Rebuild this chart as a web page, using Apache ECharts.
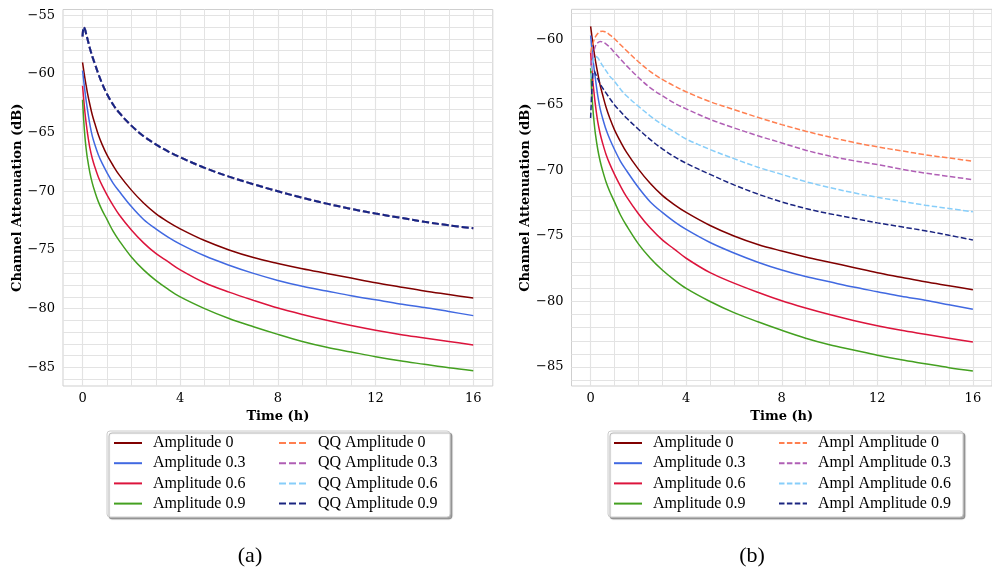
<!DOCTYPE html>
<html>
<head>
<meta charset="utf-8">
<script src="https://cdn.jsdelivr.net/npm/echarts@6/dist/echarts.min.js"></script>
<style>html,body{margin:0;padding:0;background:#fff;}#c{width:992px;height:571px;}</style>
</head>
<body>
<div id="c"></div>
<script>
// ---- data ----
const timeH = [0, 0.05, 0.1, 0.15, 0.2, 0.3, 0.4, 0.5, 0.65, 0.8, 1, 1.25, 1.5, 2, 2.5, 3, 3.5, 4, 5, 6, 7, 8, 9, 10, 11, 12, 13, 14, 15, 16];

const amp0  = [-59.0, -59.7, -60.4, -61.0, -61.6, -62.6, -63.5, -64.2, -65.2, -66.0, -66.9, -67.8, -68.6, -69.9, -71.0, -71.9, -72.6, -73.2, -74.2, -75.0, -75.65, -76.15, -76.6, -77.0, -77.4, -77.8, -78.15, -78.5, -78.8, -79.1];
const amp03 = [-59.7, -60.6, -61.5, -62.3, -63.0, -64.3, -65.3, -66.0, -66.9, -67.6, -68.4, -69.3, -70.0, -71.3, -72.4, -73.2, -73.9, -74.5, -75.5, -76.3, -77.0, -77.6, -78.1, -78.5, -78.9, -79.25, -79.6, -79.9, -80.25, -80.6];
const amp06 = [-61.0, -62.2, -63.3, -64.2, -65.0, -66.3, -67.2, -67.9, -68.8, -69.5, -70.3, -71.2, -72.0, -73.3, -74.4, -75.3, -76.0, -76.7, -77.8, -78.6, -79.3, -79.95, -80.5, -81.0, -81.45, -81.85, -82.2, -82.5, -82.8, -83.1];
const amp09 = [-62.2, -64.0, -65.4, -66.4, -67.2, -68.4, -69.3, -70.0, -70.9, -71.6, -72.4, -73.4, -74.2, -75.6, -76.7, -77.6, -78.35, -79.0, -80.0, -80.85, -81.55, -82.2, -82.8, -83.3, -83.7, -84.1, -84.45, -84.75, -85.05, -85.3];

// panel (a): the QQ curves coincide, only the last drawn one is visible
const qqAmp = [-56.8, -56.0, -56.2, -56.6, -57.0, -57.8, -58.5, -59.1, -60.0, -60.8, -61.7, -62.6, -63.3, -64.4, -65.3, -66.0, -66.6, -67.1, -68.0, -68.75, -69.4, -70.0, -70.55, -71.05, -71.5, -71.9, -72.25, -72.6, -72.9, -73.15];

// panel (b)
const amplAmp0  = [-61.0, -60.6, -60.3, -60.0, -59.8, -59.55, -59.4, -59.37, -59.45, -59.65, -59.95, -60.4, -60.85, -61.7, -62.45, -63.05, -63.55, -64.0, -64.75, -65.35, -65.95, -66.5, -67.0, -67.45, -67.85, -68.2, -68.5, -68.8, -69.05, -69.3];
const amplAmp03 = [-62.0, -61.5, -61.1, -60.8, -60.5, -60.25, -60.15, -60.2, -60.35, -60.6, -61.0, -61.5, -62.0, -62.9, -63.7, -64.3, -64.85, -65.3, -66.1, -66.75, -67.35, -67.9, -68.45, -68.9, -69.25, -69.55, -69.9, -70.2, -70.45, -70.7];
const amplAmp06 = [-63.0, -62.2, -61.7, -61.4, -61.3, -61.4, -61.7, -62.0, -62.4, -62.8, -63.2, -63.8, -64.3, -65.1, -65.85, -66.5, -67.05, -67.6, -68.4, -69.1, -69.75, -70.3, -70.85, -71.3, -71.7, -72.05, -72.35, -72.65, -72.9, -73.15];
const amplAmp09 = [-66.0, -64.0, -62.6, -62.4, -62.6, -63.0, -63.4, -63.7, -64.1, -64.5, -65.0, -65.5, -66.0, -66.85, -67.65, -68.35, -68.95, -69.45, -70.3, -71.1, -71.8, -72.4, -72.9, -73.3, -73.65, -74.0, -74.3, -74.6, -74.95, -75.3];

const solidNames = ['Amplitude 0', 'Amplitude 0.3', 'Amplitude 0.6', 'Amplitude 0.9'];
const qqNames = ['QQ Amplitude 0', 'QQ Amplitude 0.3', 'QQ Amplitude 0.6', 'QQ Amplitude 0.9'];
const amplNames = ['Ampl Amplitude 0', 'Ampl Amplitude 0.3', 'Ampl Amplitude 0.6', 'Ampl Amplitude 0.9'];

const xMajorTicks = [0, 4, 8, 12, 16];
const xMinorTicks = [0, 1, 2, 3, 4, 5, 6, 7, 8, 9, 10, 11, 12, 13, 14, 15, 16];
const yMajorLeft = [-85, -80, -75, -70, -65, -60, -55];
const yMinorLeft = [-86, -85, -84, -83, -82, -81, -80, -79, -78, -77, -76, -75, -74, -73, -72, -71, -70, -69, -68, -67, -66, -65, -64, -63, -62, -61, -60, -59, -58, -57, -56, -55];
const yMajorRight = [-85, -80, -75, -70, -65, -60];
const yMinorRight = [-86, -85, -84, -83, -82, -81, -80, -79, -78, -77, -76, -75, -74, -73, -72, -71, -70, -69, -68, -67, -66, -65, -64, -63, -62, -61, -60, -59, -58];
const xTitle = 'Time (h)';
const yTitle = 'Channel Attenuation (dB)';
const captions = ['(a)', '(b)'];

// ---- styling ----
const solidColors = ['#800000', '#4169e1', '#dc143c', '#44a020'];
const dashColors = ['#ff7f50', '#b05fb5', '#87cefa', '#1a2480'];
const tickFont = 'DejaVu Serif';
const legendFont = 'Liberation Serif';

const fmt = v => (v < 0 ? '\u2212' : '') + Math.abs(v);

function xAxes(g) {
  return [
    { type: 'value', gridIndex: g, min: -0.8, max: 16.8, position: 'bottom',
      axisLine: { show: false },
      axisTick: { show: false, customValues: xMajorTicks },
      axisLabel: { customValues: xMajorTicks, formatter: fmt, fontFamily: tickFont, fontSize: 13, color: '#000', margin: 6 },
      splitLine: { show: true, lineStyle: { color: '#d4d4d4', width: 1.1 } },
      name: xTitle, nameLocation: 'middle', nameGap: 22,
      nameTextStyle: { fontFamily: tickFont, fontWeight: 'bold', fontSize: 13, color: '#000' } },
    { type: 'value', gridIndex: g, min: -0.8, max: 16.8, position: 'bottom',
      axisLine: { show: false },
      axisTick: { show: false, customValues: xMinorTicks },
      axisLabel: { show: false },
      splitLine: { show: true, lineStyle: { color: '#e3e3e3', width: 1 } } }
  ];
}
function yAxes(g, mn, mx, major, minor) {
  return [
    { type: 'value', gridIndex: g, min: mn, max: mx, position: 'left',
      axisLine: { show: false },
      axisTick: { show: false, customValues: major },
      axisLabel: { customValues: major, formatter: fmt, fontFamily: tickFont, fontSize: 13, color: '#000', margin: 8 },
      splitLine: { show: true, lineStyle: { color: '#d4d4d4', width: 1.1 } },
      name: yTitle, nameLocation: 'middle', nameGap: 38, nameRotate: 90,
      nameTextStyle: { fontFamily: tickFont, fontWeight: 'bold', fontSize: 13, color: '#000' } },
    { type: 'value', gridIndex: g, min: mn, max: mx, position: 'left',
      axisLine: { show: false },
      axisTick: { show: false, customValues: minor },
      axisLabel: { show: false },
      splitLine: { show: true, lineStyle: { color: '#e3e3e3', width: 1 } } }
  ];
}

function mk(name, vals, color, g, dash, width, z) {
  return {
    name, type: 'line', xAxisIndex: g * 2, yAxisIndex: g * 2,
    data: timeH.map((t, i) => [t, vals[i]]),
    symbol: 'none', smooth: 0.35, z,
    lineStyle: { color, width, type: dash || 'solid', cap: 'butt' },
    itemStyle: { color }, silent: true
  };
}

const solidVals = [amp0, amp03, amp06, amp09];
const amplVals = [amplAmp0, amplAmp03, amplAmp06, amplAmp09];
const series = [];
solidNames.forEach((n, i) => series.push(mk(n, solidVals[i], solidColors[i], 0, null, 1.5, 2 + i)));
qqNames.forEach((n, i) => series.push(mk(n, qqAmp, dashColors[i], 0, [7, 3], 2, 6 + i)));
solidNames.forEach((n, i) => series.push(mk(n, solidVals[i], solidColors[i], 1, null, 1.5, 2 + i)));
amplNames.forEach((n, i) => series.push(mk(n, amplVals[i], dashColors[i], 1, [5.5, 2.4], 1.5, 6 + i)));

function legend(names, left) {
  return {
    data: names, left, top: 435, orient: 'vertical', padding: 0,
    itemWidth: 28, itemHeight: 14, itemGap: 4.2, selectedMode: false,
    itemStyle: { opacity: 0, borderWidth: 0 },
    textStyle: { fontFamily: legendFont, fontSize: 16, color: '#000', padding: [0, 0, 0, 6] }
  };
}

const option = {
  animation: false,
  backgroundColor: '#fff',
  grid: [
    { left: 63, top: 9.5, width: 429.8, bottom: 185, show: true, borderColor: '#cfcfcf', borderWidth: 1, backgroundColor: 'transparent', containLabel: false },
    { left: 571.5, top: 9.3, width: 429.8, bottom: 185, show: true, borderColor: '#cfcfcf', borderWidth: 1, backgroundColor: 'transparent', containLabel: false }
  ],
  xAxis: [...xAxes(0), ...xAxes(1)],
  yAxis: [...yAxes(0, -86.6, -54.5, yMajorLeft, yMinorLeft), ...yAxes(1, -86.45, -57.7, yMajorRight, yMinorRight)],
  legend: [legend(solidNames, 113), legend(qqNames, 278), legend(solidNames, 613), legend(amplNames, 778)],
  graphic: [
    { type: 'rect', z: 1, shape: { x: 107, y: 431, width: 343, height: 86, r: 3 },
      style: { fill: '#fff', stroke: '#cccccc', lineWidth: 1, shadowColor: 'rgba(0,0,0,0.35)', shadowOffsetX: 2, shadowOffsetY: 2, shadowBlur: 1 } },
    { type: 'rect', z: 1, shape: { x: 608, y: 431, width: 355, height: 86, r: 3 },
      style: { fill: '#fff', stroke: '#cccccc', lineWidth: 1, shadowColor: 'rgba(0,0,0,0.35)', shadowOffsetX: 2, shadowOffsetY: 2, shadowBlur: 1 } },
    { type: 'text', z: 5, x: 250, y: 556, style: { text: captions[0], fontFamily: legendFont, fontSize: 22, fill: '#000', align: 'center', verticalAlign: 'middle' } },
    { type: 'text', z: 5, x: 752, y: 556, style: { text: captions[1], fontFamily: legendFont, fontSize: 22, fill: '#000', align: 'center', verticalAlign: 'middle' } }
  ],
  series
};

const chart = echarts.init(document.getElementById('c'), null, { renderer: 'canvas' });
chart.setOption(option);
</script>
</body>
</html>
